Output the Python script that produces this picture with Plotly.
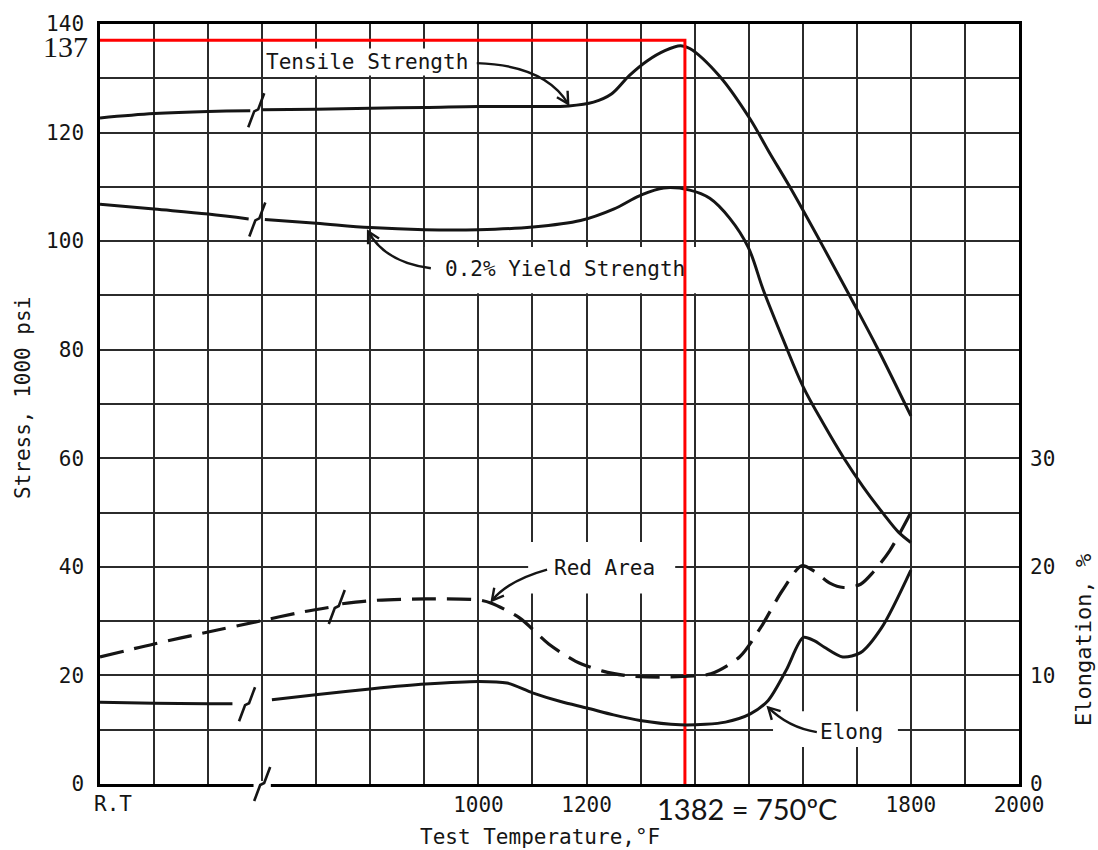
import math
import plotly.graph_objects as go

# ---------------- data ----------------
# x positions are on the temperature axis (°F); positions below the axis break (600)
# belong to the room-temperature ("R.T") stretch of the axis.
tensile_T = [300, 400, 500, 578, None, 600, 700, 800, 900, 1000, 1100, 1167, 1213, 1246, 1279,
             1312, 1345, 1374, 1391, 1447, 1502, 1539, 1576, 1638, 1688, 1737, 1800]
tensile_S = [122.7, 123.5, 123.9, 124.0, None, 124.2, 124.3, 124.5, 124.6, 124.8, 124.8, 124.9, 125.6, 127.1, 130.5,
             133.2, 135.1, 136.0, 135.5, 130.3, 122.6, 116.2, 110.0, 98.9, 89.7, 80.5, 67.8]

yield_T = [300, 400, 500, 575, None, 605, 700, 800, 900, 1000, 1100, 1189, 1250, 1299, 1343,
           1391, 1428, 1465, 1499, 1527, 1564, 1601, 1638, 1675, 1712, 1749, 1777, 1800]
yield_S = [106.8, 105.9, 105.0, 104.1, None, 104.0, 103.3, 102.5, 102.1, 102.1, 102.6, 103.8, 105.9, 108.4, 109.8,
           109.4, 107.9, 104.2, 98.9, 91.0, 81.8, 73.1, 66.4, 60.2, 54.7, 49.8, 46.4, 44.5]

red_area_T = [300, 400, 500, 600, 670, 728, None, 748, 804, 902, 1001, 1024, 1076, 1130, 1180, 1230,
              1279, 1336, 1378, 1430, 1483, 1522, 1562, 1598, 1621, 1650, 1675, 1707, 1730, 1761, 1800]
red_area_P = [11.7, 12.9, 14.0, 15.05, 15.8, 16.3, None, 16.6, 16.9, 17.05, 16.95, 16.65, 15.3, 12.9, 11.3, 10.4,
              9.95, 9.85, 9.9, 10.15, 11.7, 14.4, 17.8, 20.1, 19.6, 18.5, 18.1, 18.4, 19.5, 21.5, 25.0]

elong_T = [300, 400, 500, 545, None, 618, 703, 804, 902, 1001, 1053, 1100, 1152, 1201, 1250, 1299,
           1373, 1420, 1457, 1503, 1536, 1569, 1601, 1621, 1640, 1674, 1707, 1746, 1800]
elong_P = [7.53, 7.44, 7.38, 7.38, None, 7.75, 8.24, 8.77, 9.2, 9.45, 9.3, 8.4, 7.6, 7.0, 6.37, 5.85,
           5.45, 5.5, 5.7, 6.46, 7.7, 10.45, 13.5, 13.2, 12.6, 11.7, 12.1, 14.4, 19.7]

# break marks on the curves (axis position, value) and on the temperature axis
tensile_break = (589, 124.1)
yield_break = (591, 104.0)
red_area_break = (738, 16.3)
elong_break = (572, 7.35)
axis_break_T = 600

x_tick_vals = list(range(300, 2001, 100))
x_tick_labels = {1000: "1000", 1200: "1200", 1800: "1800", 2000: "2000"}
stress_grid = list(range(0, 141, 10))
stress_labels = [0, 20, 40, 60, 80, 100, 120, 140]
elong_ticks = [0, 10, 20, 30]

marked_T = 1382
marked_S = 137
marked_label = "1382 = 750ºC"

# ---------------- geometry helpers ----------------
W, H = 1098, 850
ML, MR, MT, MB = 100, 79, 24, 66
PW, PH = W - ML - MR, H - MT - MB
XR = (300, 2000)
YR = (0, 140)
Y2R = (0, 70)
PX_T = PW / (XR[1] - XR[0])
PX_S = PH / (YR[1] - YR[0])
PX_P = PH / (Y2R[1] - Y2R[0])


def paper_y(py):
    return (MT + PH - py) / PH


def paper_x(px):
    return (px - ML) / PW


MONO = "DejaVu Sans Mono"
INK = "#151515"

fig = go.Figure()

smooth_style = dict(color=INK, width=3, shape="spline", smoothing=1.0)
line_style = dict(color=INK, width=3, shape="spline", smoothing=0.8)
fig.add_trace(go.Scatter(x=tensile_T, y=tensile_S, mode="lines", line=smooth_style,
                         connectgaps=False, name="Tensile Strength"))
fig.add_trace(go.Scatter(x=yield_T, y=yield_S, mode="lines", line=smooth_style,
                         connectgaps=False, name="0.2% Yield Strength"))
fig.add_trace(go.Scatter(x=elong_T, y=elong_P, mode="lines", line=line_style, yaxis="y2",
                         connectgaps=False, name="Elong"))
fig.add_trace(go.Scatter(x=red_area_T, y=red_area_P, mode="lines",
                         line=dict(color=INK, width=3.2, dash="24px,11px", shape="spline", smoothing=0.8),
                         yaxis="y2", connectgaps=False, name="Red Area"))

# break marks
MARK = [(-8, -17), (-2, -1), (2, 1), (8, 17)]


def mark_trace(center, px_per_v, yaxis):
    tc, vc = center
    xs = [tc + dx / PX_T for dx, dy in MARK]
    ys = [vc + dy / px_per_v for dx, dy in MARK]
    return go.Scatter(x=xs, y=ys, mode="lines", line=dict(color=INK, width=2.6),
                      yaxis=yaxis, hoverinfo="skip", showlegend=False)


fig.add_trace(mark_trace(tensile_break, PX_S, "y"))
fig.add_trace(mark_trace(yield_break, PX_S, "y"))
fig.add_trace(mark_trace(red_area_break, PX_P, "y2"))
fig.add_trace(mark_trace(elong_break, PX_P, "y2"))

# red marker lines
fig.add_trace(go.Scatter(x=[XR[0], marked_T, marked_T], y=[marked_S, marked_S, 0], mode="lines",
                         line=dict(color="#ff0000", width=3), hoverinfo="skip", showlegend=False))

shapes = []
# white label boxes that interrupt the grid (above grid, below curves)
label_boxes = [
    ((901, 1410), (90.4, 98.9)),    # 0.2% Yield Strength
    ((1092, 1364), (35.1, 44.6)),   # Red Area
    ((1545, 1776), (6.8, 13.4)),    # Elong
]
for (x0, x1), (y0, y1) in label_boxes:
    shapes.append(dict(type="rect", xref="x", yref="y", x0=x0, x1=x1, y0=y0, y1=y1,
                       fillcolor="white", line=dict(width=0), layer="between"))

# axis break: white gap on the axis line, then the zig mark
shapes.append(dict(type="rect", xref="x", yref="paper", x0=axis_break_T - 16, x1=axis_break_T + 16,
                   y0=-0.004, y1=0.004, fillcolor="white", line=dict(width=0), layer="above"))
pts = [(axis_break_T + dx / PX_T, dy / PH) for dx, dy in MARK]
shapes.append(dict(type="path", xref="x", yref="paper",
                   path="M " + " L ".join(f"{a},{b}" for a, b in pts),
                   line=dict(color=INK, width=2.6), layer="above"))

# curved pointer arrows (start, control, tip) in (°F, stress)
arrows = [
    ((997, 132.8), (1123, 132.4), (1166, 125.3)),
    ((912, 95.0), (827, 96.1), (796, 101.8)),
    ((1127, 39.5), (1055, 37.5), (1025, 33.8)),
    ((1626, 9.55), (1573, 10.4), (1536, 14.1)),
]
for s, c, t in arrows:
    shapes.append(dict(type="path", xref="x", yref="y",
                       path=f"M {s[0]},{s[1]} Q {c[0]},{c[1]} {t[0]},{t[1]}",
                       line=dict(color=INK, width=2.4), layer="above"))
    dx = (t[0] - c[0]) * PX_T
    dy = -(t[1] - c[1]) * PX_S
    n = math.hypot(dx, dy)
    ux, uy = dx / n, dy / n
    arms = []
    for ang in (0.5, -0.5):
        ca, sa = math.cos(ang), math.sin(ang)
        rx = ux * ca - uy * sa
        ry = ux * sa + uy * ca
        arms.append((t[0] - 13 * rx / PX_T, t[1] + 13 * ry / PX_S))
    shapes.append(dict(type="path", xref="x", yref="y",
                       path=f"M {arms[0][0]},{arms[0][1]} L {t[0]},{t[1]} L {arms[1][0]},{arms[1][1]}",
                       line=dict(color=INK, width=2.4), layer="above"))

lab = dict(family=MONO, size=21, color=INK)
annotations = [
    dict(x=793, y=133.05, xref="x", yref="y", text="Tensile Strength", showarrow=False,
         yanchor="middle", font=lab, bgcolor="white", borderpad=1),
    dict(x=1161, y=94.8, xref="x", yref="y", text="0.2% Yield Strength", showarrow=False,
         yanchor="middle", font=lab),
    dict(x=1234, y=39.7, xref="x", yref="y", text="Red Area", showarrow=False,
         yanchor="middle", font=lab),
    dict(x=1691, y=9.55, xref="x", yref="y", text="Elong", showarrow=False,
         yanchor="middle", font=lab),
    dict(x=300, y=paper_y(804), xref="x", yref="paper", text="R.T", showarrow=False,
         xanchor="left", yanchor="middle", xshift=-8, font=lab),
    dict(x=paper_x(540), y=paper_y(837), xref="paper", yref="paper",
         text="Test Temperature,°F", showarrow=False, xanchor="center", yanchor="middle", font=lab),
    dict(x=paper_x(23), y=paper_y(398), xref="paper", yref="paper",
         text="Stress, 1000 psi", textangle=-90, showarrow=False, xanchor="center", yanchor="middle", font=lab),
    dict(x=paper_x(1083), y=paper_y(640), xref="paper", yref="paper",
         text="Elongation, %", textangle=-90, showarrow=False, xanchor="center", yanchor="middle",
         font=dict(family=MONO, size=22, color=INK)),
    dict(x=0, y=marked_S, xref="paper", yref="y", text=str(marked_S), showarrow=False,
         xanchor="right", yanchor="middle", xshift=-10, yshift=-6,
         font=dict(family="Liberation Serif", size=30, color=INK)),
    dict(x=marked_T, y=paper_y(808), xref="x", yref="paper", text=marked_label, showarrow=False,
         xanchor="left", yanchor="middle", xshift=-30, bgcolor="white",
         font=dict(family="Lato", size=29, color=INK)),
]

grid = dict(showgrid=True, gridcolor="#2b2b2b", gridwidth=1.5)
fig.update_layout(
    width=W, height=H, autosize=False,
    margin=dict(l=ML, r=MR, t=MT, b=MB, pad=0),
    paper_bgcolor="white", plot_bgcolor="white",
    showlegend=False,
    font=dict(family=MONO, size=21, color=INK),
    xaxis=dict(range=list(XR), tickmode="array", tickvals=x_tick_vals,
               ticktext=[x_tick_labels.get(v, "") for v in x_tick_vals],
               showline=True, linecolor="black", linewidth=2.5, mirror=True,
               zeroline=False, ticks="", ticklabelstandoff=0, **grid),
    yaxis=dict(range=list(YR), tickmode="array", tickvals=stress_grid,
               ticktext=[str(v) if v in stress_labels else "" for v in stress_grid],
               showline=True, linecolor="black", linewidth=2.5, mirror=True,
               zeroline=False, ticks="", ticklabelstandoff=9, **grid),
    yaxis2=dict(range=list(Y2R), overlaying="y", side="right", tickmode="array",
                tickvals=elong_ticks, showgrid=False, zeroline=False, showline=False,
                ticks="", ticklabelstandoff=10),
    shapes=shapes,
    annotations=annotations,
)

fig.write_html("out.html")
